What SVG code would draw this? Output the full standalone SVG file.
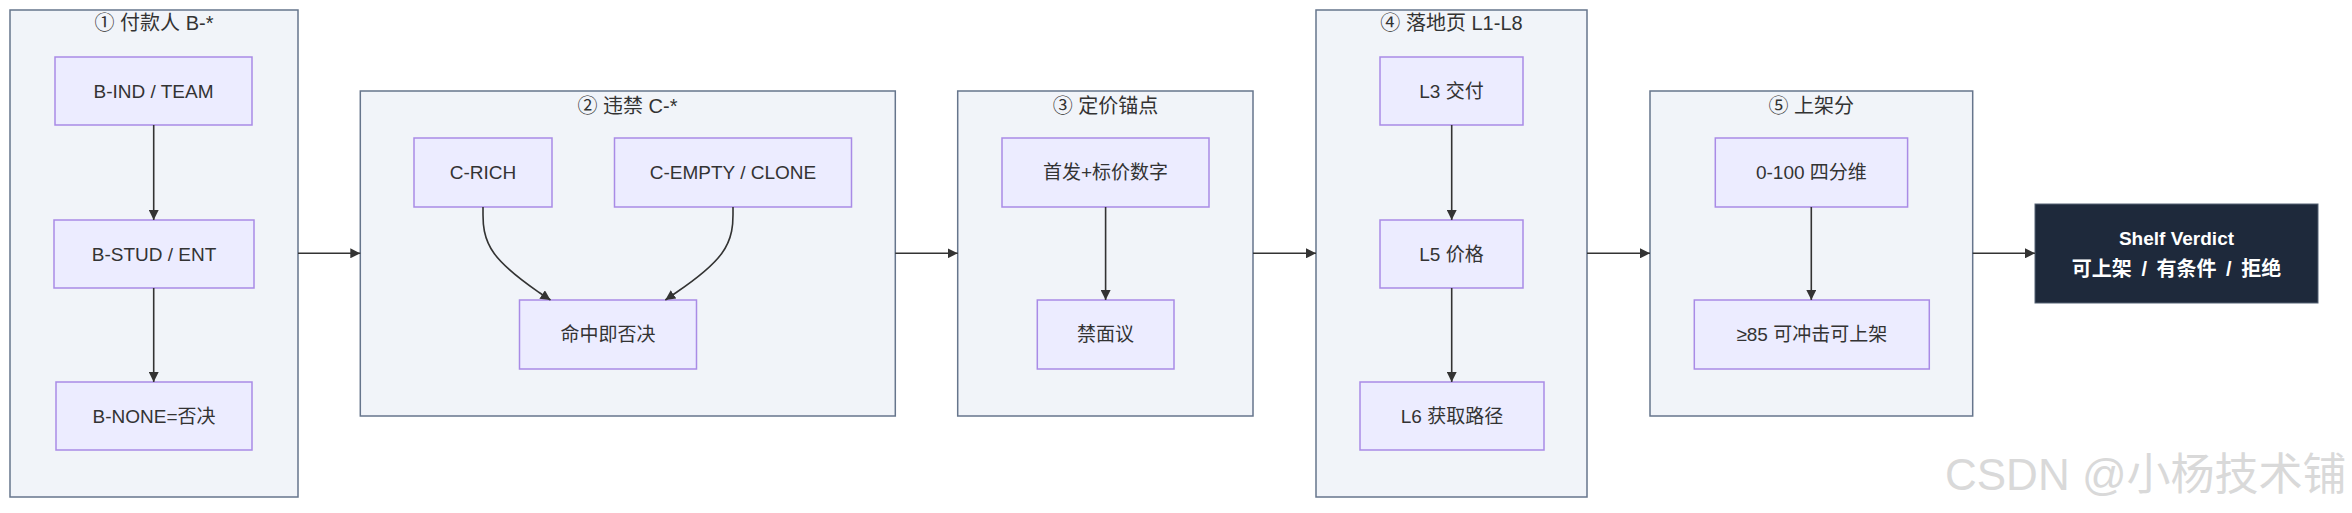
<svg xmlns="http://www.w3.org/2000/svg" width="2352" height="513" viewBox="0 0 2352 513">
<defs>
<marker id="arrow" viewBox="0 0 10 10" refX="10" refY="5" markerWidth="10" markerHeight="10" markerUnits="userSpaceOnUse" orient="auto">
<path d="M0,0 L10,5 L0,10 z" fill="#333333"/>
</marker>
<style>
.cluster rect{fill:#f1f4f9;stroke:#66758c;stroke-width:1.5}
.cluster text{font-family:"Liberation Sans","Noto Sans CJK SC",sans-serif;font-size:20px;fill:#333333;text-anchor:middle;dominant-baseline:central}
.node rect{fill:#ececff;stroke:#a98be6;stroke-width:1.5}
.node text{font-family:"Liberation Sans","Noto Sans CJK SC",sans-serif;font-size:19px;fill:#333333;text-anchor:middle;dominant-baseline:central}
.dark rect{fill:#1e293b;stroke:#556275;stroke-width:1}
.dark text{font-family:"Liberation Sans","Noto Sans CJK SC",sans-serif;font-size:19px;font-weight:bold;fill:#ffffff;text-anchor:middle;dominant-baseline:central}
.dark .l2{font-size:20px;word-spacing:4px}
.edges path{fill:none;stroke:#333333;stroke-width:1.6;marker-end:url(#arrow)}
.wm{font-family:"Liberation Sans","Noto Sans CJK SC",sans-serif;font-size:44px;fill:#d9d9d9}
</style>
</defs>
<rect x="0" y="0" width="2352" height="513" fill="#ffffff"/>

<g id="cluster1" class="cluster"><rect x="10" y="10" width="288" height="487"/><text x="154" y="23">① 付款人 B-*</text></g>
<g id="cluster2" class="cluster"><rect x="360.3" y="91" width="535" height="325"/><text x="627.5" y="106">② 违禁 C-*</text></g>
<g id="cluster3" class="cluster"><rect x="957.7" y="91" width="295.3" height="325"/><text x="1105.5" y="106">③ 定价锚点</text></g>
<g id="cluster4" class="cluster"><rect x="1316" y="10" width="271" height="487"/><text x="1451.5" y="23">④ 落地页 L1-L8</text></g>
<g id="cluster5" class="cluster"><rect x="1650" y="91" width="322.7" height="325"/><text x="1811.3" y="106">⑤ 上架分</text></g>

<g id="B_IND" class="node"><rect x="55" y="57" width="197" height="68"/><text x="153.5" y="91">B-IND / TEAM</text></g>
<g id="B_STUD" class="node"><rect x="54" y="220" width="200" height="68"/><text x="154" y="254">B-STUD / ENT</text></g>
<g id="B_NONE" class="node"><rect x="56" y="382" width="196" height="68"/><text x="154" y="416">B-NONE=否决</text></g>

<g id="C_RICH" class="node"><rect x="414" y="138" width="138" height="69"/><text x="483" y="172.5">C-RICH</text></g>
<g id="C_EMPTY" class="node"><rect x="614.5" y="138" width="237" height="69"/><text x="733" y="172.5">C-EMPTY / CLONE</text></g>
<g id="C_VETO" class="node"><rect x="519.5" y="300" width="177" height="69"/><text x="608" y="334.5">命中即否决</text></g>

<g id="P_ANCHOR" class="node"><rect x="1002" y="138" width="207" height="69"/><text x="1105.5" y="172.5">首发+标价数字</text></g>
<g id="P_NONEG" class="node"><rect x="1037.3" y="300" width="136.7" height="69"/><text x="1105.6" y="334.5">禁面议</text></g>

<g id="L3" class="node"><rect x="1380" y="57" width="143" height="68"/><text x="1451.5" y="91">L3 交付</text></g>
<g id="L5" class="node"><rect x="1380" y="220" width="143" height="68"/><text x="1451.5" y="254">L5 价格</text></g>
<g id="L6" class="node"><rect x="1360" y="382" width="184" height="68"/><text x="1452" y="416">L6 获取路径</text></g>

<g id="S_SCORE" class="node"><rect x="1715.3" y="138" width="192.3" height="69"/><text x="1811.4" y="172.5">0-100 四分维</text></g>
<g id="S_PASS" class="node"><rect x="1694.3" y="300" width="235" height="69"/><text x="1811.8" y="334.5">≥85 可冲击可上架</text></g>

<g id="VERDICT" class="dark"><rect x="2035" y="204" width="283" height="99"/><text x="2176.5" y="238.5">Shelf Verdict</text><text class="l2" x="2176.5" y="268.5">可上架 / 有条件 / 拒绝</text></g>

<g id="edges" class="edges">
<path d="M153.7,125 L153.7,220"/>
<path d="M153.7,288 L153.7,382"/>
<path d="M483,207 L483,214.75 C483,222.5 483,238 494.2,253.5 C505.3,269 527.7,284.5 538.8,292.25 L550.5,300"/>
<path d="M733,207 L733,214.75 C733,222.5 733,238 721.7,253.5 C710.4,269 688,284.5 676.6,292.25 L665.3,300"/>
<path d="M1105.6,207 L1105.6,300"/>
<path d="M1451.7,125 L1451.7,220"/>
<path d="M1451.7,288 L1451.7,382"/>
<path d="M1811.3,207 L1811.3,300"/>
<path d="M298,253.3 L360.3,253.3"/>
<path d="M895.3,253.3 L957.7,253.3"/>
<path d="M1253,253.3 L1316,253.3"/>
<path d="M1587,253.3 L1650,253.3"/>
<path d="M1972.7,253.3 L2035,253.3"/>
</g>

<text class="wm" x="1945" y="490">CSDN @小杨技术铺</text>
</svg>
